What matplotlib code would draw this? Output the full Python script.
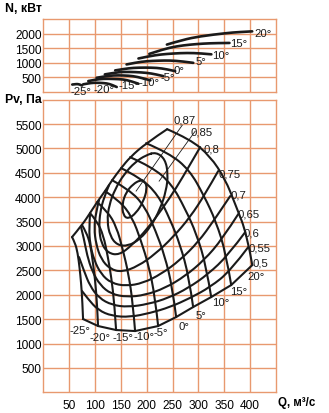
""" axial fan performance chart """

import matplotlib
matplotlib.use("Agg")
from matplotlib import pyplot as plt
from matplotlib.path import Path
from matplotlib.patches import PathPatch

ANGLES = [-25, -20, -15, -10, -5, 0, 5, 10, 15, 20]

# pressure curves Pv(Q), one list per blade angle
PV_Q = [
    [55.6, 61.4, 66.4, 70.1, 73.0, 75.5, 76.9],
    [74.9, 83.2, 90.8, 96.0, 100.3, 104.0, 105.9],
    [90.4, 104.0, 116.2, 124.7, 131.6, 137.6, 140.8],
    [104.0, 123.9, 141.5, 153.9, 164.4, 173.1, 177.5],
    [119.5, 147.1, 171.7, 189.2, 203.7, 215.9, 222.1],
    [133.0, 166.5, 196.1, 217.2, 234.6, 249.6, 256.9],
    [150.4, 188.0, 221.5, 245.3, 264.6, 281.5, 289.8],
    [167.9, 210.3, 247.8, 274.5, 296.4, 315.2, 324.7],
    [198.8, 243.4, 282.9, 310.7, 333.8, 353.5, 363.4],
    [239.5, 284.0, 322.7, 351.8, 371.1, 394.4, 404.1],
]
PV_P = [
    [3183, 3065, 2862, 2561, 2258, 1871, 1502],
    [3429, 3282, 3035, 2662, 2289, 1813, 1359],
    [3675, 3506, 3219, 2787, 2354, 1799, 1277],
    [3900, 3715, 3397, 2922, 2447, 1838, 1256],
    [4125, 3930, 3598, 3100, 2602, 1967, 1359],
    [4350, 4153, 3817, 3311, 2805, 2160, 1543],
    [4597, 4397, 4055, 3543, 3028, 2375, 1748],
    [4821, 4621, 4276, 3760, 3244, 2584, 1953],
    [5108, 4905, 4555, 4032, 3508, 2838, 2199],
    [5395, 5190, 4842, 4371, 3859, 3224, 2608],
]

# power curves N(Q), one list per blade angle
N_Q = [
    [56, 62, 66, 71, 75],
    [77, 87, 97, 110, 123, 133, 142],
    [87, 101, 116, 135, 155, 170, 184],
    [103, 120, 135, 155, 174, 191, 207],
    [119, 137, 155, 178, 200, 217, 232],
    [139, 157, 174, 197, 220, 238, 255],
    [161, 180, 200, 223, 245, 268, 290],
    [184, 205, 226, 252, 278, 304, 325],
    [205, 232, 258, 284, 310, 335, 360],
    [239, 270, 303, 355, 378, 404],
]
N_N = [
    [246, 258, 264, 245, 212],
    [253, 285, 308, 305, 287, 235, 161],
    [366, 415, 445, 440, 424, 360, 274],
    [479, 530, 561, 560, 537, 470, 390],
    [595, 650, 684, 675, 650, 600, 537],
    [732, 785, 821, 830, 821, 775, 708],
    [937, 1005, 1050, 1068, 1074, 1045, 992],
    [1142, 1220, 1279, 1315, 1334, 1320, 1285],
    [1300, 1460, 1563, 1620, 1655, 1672, 1676],
    [1620, 1785, 1905, 2018, 2050, 2075],
]

# efficiency lines (0,5 is the line through the ends of the pressure curves)
ETA_LEVELS = ["0,5", "0,55", "0,6", "0,65", "0,7", "0,75", "0,8", "0,85", "0,87"]
ETA_Q = [
    [396.3, 361.5, 322.7, 284.0, 245.3, 206.6, 167.9, 133.0, 105.9, 86.5, 74.9],
    [390.5, 357.6, 318.9, 280.1, 241.4, 202.7, 164.0, 133.0, 107.8, 90.4, 78.8, 69.1],
    [377.0, 346.0, 311.1, 274.3, 235.6, 196.9, 162.0, 131.1, 109.8, 94.3, 84.6, 78.8, 73.0],
    [361.5, 330.5, 299.5, 264.6, 227.9, 193.0, 160.1, 131.1, 111.7, 98.2, 90.4, 88.5, 90.4],
    [338.2, 313.0, 284.0, 251.1, 216.3, 183.4, 152.4, 129.1, 111.7, 102.0, 98.2, 102.0, 107.8],
    [303.4, 282.1, 256.9, 229.8, 200.8, 171.8, 146.6, 125.3, 111.7, 107.8, 109.8, 117.5, 127.2],
    [218.2, 235.6, 241.4, 237.5, 225.9, 208.5, 187.2, 164.0, 142.7, 129.1, 123.3, 127.2,
     138.8, 156.2, 177.5, 198.8, 218.2],
    [196.9, 200.8, 193.0, 179.5, 164.0, 154.3, 152.4, 160.1, 173.7, 187.2, 196.9],
]
ETA_P = [
    [2977, 2485, 2158, 1932, 1748, 1625, 1543, 1563, 1686, 1912, 2076],
    [3285, 2813, 2424, 2137, 1932, 1809, 1748, 1789, 1932, 2178, 2485, 2772],
    [3654, 3141, 2711, 2383, 2137, 1994, 1953, 2015, 2199, 2485, 2813, 3141, 3388],
    [4024, 3531, 3080, 2711, 2424, 2240, 2178, 2240, 2424, 2711, 3039, 3367, 3654],
    [4536, 4064, 3593, 3183, 2834, 2588, 2465, 2526, 2731, 3039, 3367, 3695, 3941],
    [5027, 4638, 4187, 3757, 3347, 3019, 2813, 2854, 3059, 3367, 3695, 4003, 4249],
    [4925, 4782, 4474, 4126, 3757, 3409, 3141, 2998, 3019, 3203, 3511, 3839, 4167,
     4474, 4720, 4864, 4925],
    [4330, 4167, 3900, 3675, 3552, 3634, 3859, 4105, 4269, 4351, 4330],
]

# label anchors (left, middle)
ETA_LABEL_POS = [(404, 2670), (396, 2977), (387, 3285), (375, 3675), (362, 4064),
                 (338, 4494), (309, 5006), (284, 5344), (251, 5600)]
LEADERS = {"0,87": ((268.7, 5477), (179.5, 4126)), "0,85": ((293.7, 5354), (224.0, 4330))}
PV_LABEL_POS = [(50, 1277), (90, 1133), (133, 1133), (174, 1154), (214, 1236),
                (261, 1359), (294, 1584), (327, 1850), (362, 2076), (394, 2383)]
N_LABEL_POS = [(52, 24), (98, 109), (145, 222), (185, 339), (226, 520),
               (251, 759), (294, 1060), (327, 1262), (362, 1689), (408, 2031)]

GRID = "#e8996f"
INK = "#1a1a1a"


def setup_axes(ax, ymax, yticks, xlabels):
    """ grid, spines and ticks """
    ax.set_xlim(0, 450)
    ax.set_ylim(0, ymax)
    ax.set_xticks(range(50, 401, 50))
    ax.set_yticks(yticks)
    ax.grid(True, color=GRID, linewidth=1.0)
    ax.set_axisbelow(True)
    for spine in ax.spines.values():
        spine.set_color(GRID)
        spine.set_linewidth(1.0)
    ax.tick_params(length=0, labelsize=8.6, colors="black", pad=1.2)
    ax.tick_params(axis="x", pad=4.5)
    if not xlabels:
        ax.set_xticklabels([])


def curve(ax, qs, ps, lw=1.5, closed=False):
    """ smooth curve through the read points (quadratic pieces) """
    pts = list(zip(qs, ps))
    mid = lambda a, b: ((a[0] + b[0]) / 2, (a[1] + b[1]) / 2)
    if closed:
        pts = pts[:-1]
        n = len(pts)
        verts = [mid(pts[-1], pts[0])]
        codes = [Path.MOVETO]
        for i in range(n):
            verts += [pts[i], mid(pts[i], pts[(i + 1) % n])]
            codes += [Path.CURVE3, Path.CURVE3]
    else:
        verts = [pts[0]]
        codes = [Path.MOVETO]
        for i in range(1, len(pts) - 1):
            end = pts[i + 1] if i == len(pts) - 2 else mid(pts[i], pts[i + 1])
            verts += [pts[i], end]
            codes += [Path.CURVE3, Path.CURVE3]
        if len(pts) == 2:
            verts.append(pts[1])
            codes.append(Path.LINETO)
    ax.add_patch(PathPatch(Path(verts, codes), fill=False, edgecolor=INK,
                           linewidth=lw, capstyle="round", joinstyle="round"))


def label(ax, pos, text, size=8.2):
    """ curve label """
    ax.text(pos[0], pos[1], text, fontsize=size, ha="left", va="center", color=INK)


def main():
    """ main """
    plt.rcParams['font.family'] = ['Liberation Sans', 'DejaVu Sans']

    fig = plt.figure(figsize=(3.29, 4.14), dpi=100)
    ax_n = fig.add_axes([0.1316, 0.7761, 0.7073, 0.1756])
    ax_p = fig.add_axes([0.1316, 0.0500, 0.7073, 0.7068])

    setup_axes(ax_n, 2500, range(500, 2001, 500), False)
    setup_axes(ax_p, 6000, range(500, 5501, 500), True)

    # power
    for ang, qs, ns, pos in zip(ANGLES, N_Q, N_N, N_LABEL_POS):
        curve(ax_n, qs, ns, lw=1.9)
        label(ax_n, pos, f"{ang}°")

    # pressure
    for ang, qs, ps, pos in zip(ANGLES, PV_Q, PV_P, PV_LABEL_POS):
        curve(ax_p, qs, ps)
        label(ax_p, pos, f"{ang}°")

    # stall line through the curve starts, 0,5 line through the curve ends
    curve(ax_p, [q[0] for q in PV_Q], [p[0] for p in PV_P])
    ax_p.plot([q[-1] for q in PV_Q], [p[-1] for p in PV_P], color=INK, linewidth=1.5,
              solid_joinstyle="round")

    for qs, ps in zip(ETA_Q, ETA_P):
        curve(ax_p, qs, ps, closed=(qs[0] == qs[-1]))

    for lvl, pos in zip(ETA_LEVELS, ETA_LABEL_POS):
        label(ax_p, pos, lvl)
    for start, end in LEADERS.values():
        ax_p.plot([start[0], end[0]], [start[1], end[1]], color=INK, linewidth=0.6)

    fig.text(5 / 329, 1 - 9 / 414, "N, кВт", fontsize=8.8, fontweight="bold", va="center")
    fig.text(5 / 329, 1 - 100 / 414, "Pv, Па", fontsize=8.8, fontweight="bold", va="center")
    fig.text(278 / 329, 1 - 403 / 414, "Q, м³/с", fontsize=8.3, fontweight="bold", va="center")

    fig.savefig("out.png", dpi=100)


main()
